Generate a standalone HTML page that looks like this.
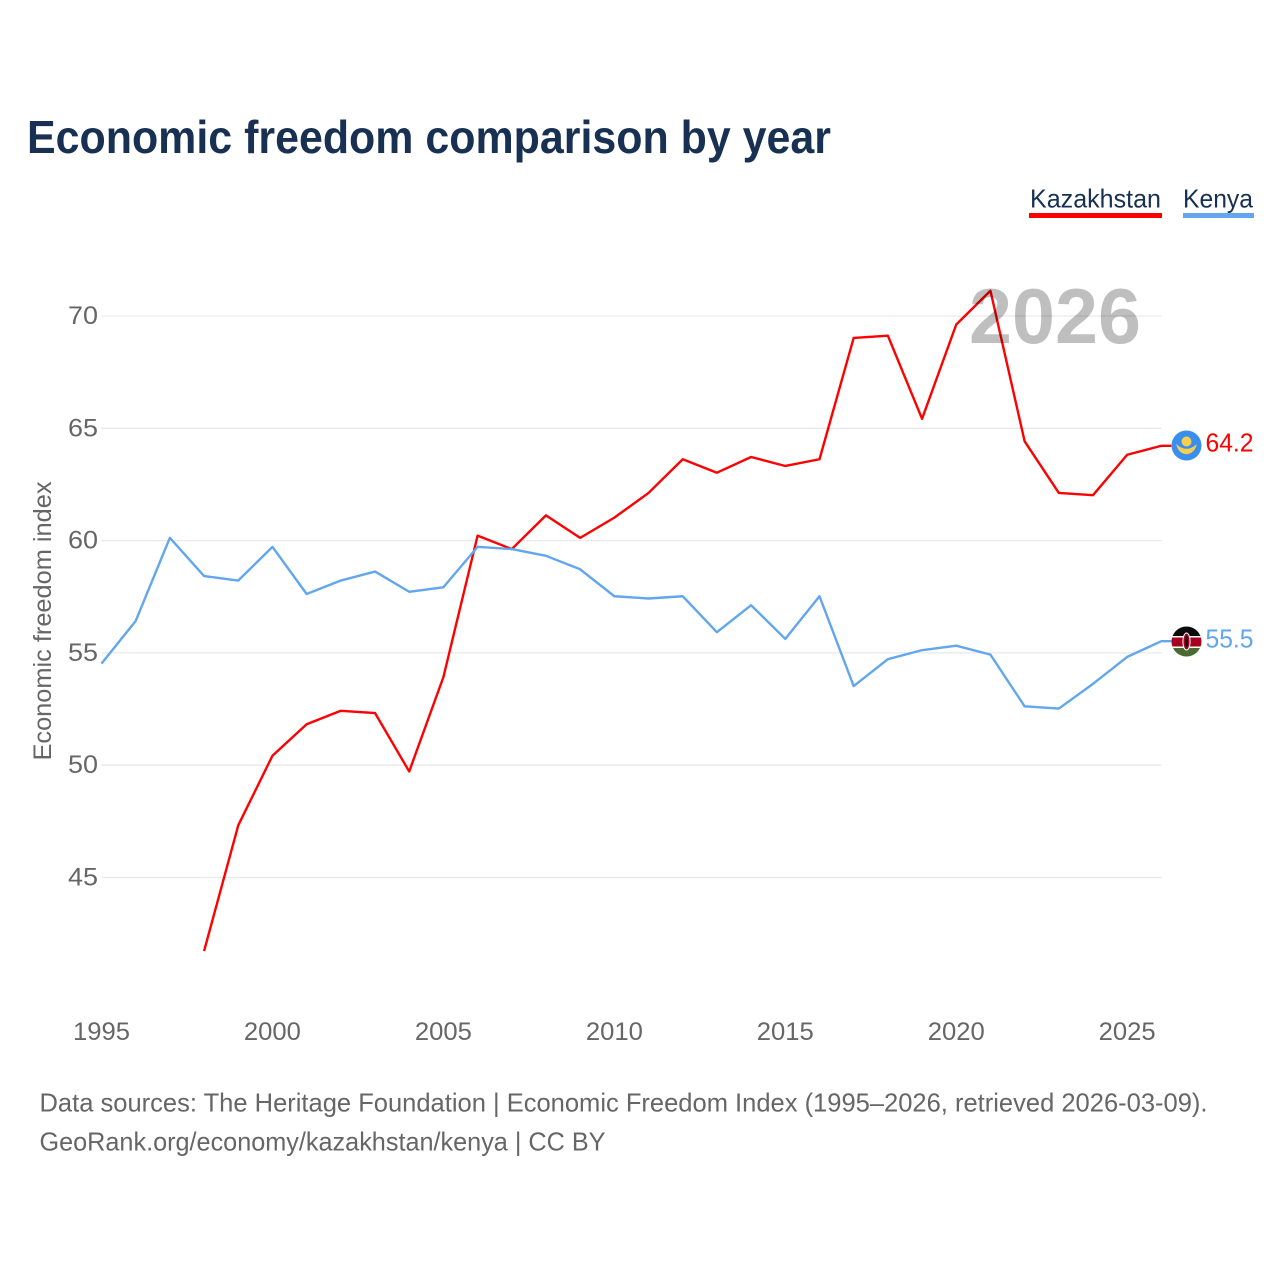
<!DOCTYPE html>
<html lang="en">
<head>
<meta charset="utf-8">
<title>Economic freedom comparison by year</title>
<style>
html,body{margin:0;padding:0;background:#fff;}
svg{display:block;font-family:"Liberation Sans",sans-serif;}
</style>
</head>
<body>
<svg id="chart" xmlns="http://www.w3.org/2000/svg" width="1280" height="1280" viewBox="0 0 1280 1280">
  <rect width="1280" height="1280" fill="#ffffff"/>
  <text x="27" y="153" font-size="46" font-weight="700" fill="#183153" textLength="804" lengthAdjust="spacingAndGlyphs">Economic freedom comparison by year</text>

  <g>
    <g>
      <text x="1030" y="207.5" font-size="26" fill="#183153" textLength="131" lengthAdjust="spacingAndGlyphs">Kazakhstan</text>
      <rect x="1029" y="213" width="133" height="5" fill="#ff0000"/>
    </g>
    <g>
      <text x="1183" y="207.5" font-size="26" fill="#183153" textLength="70" lengthAdjust="spacingAndGlyphs">Kenya</text>
      <rect x="1183" y="213" width="71" height="5" fill="#62a6ee"/>
    </g>
  </g>

  <g id="grid"></g>
  <g id="yticks"></g>
  <g id="xticks"></g>
  <text transform="translate(51,621) rotate(-90)" text-anchor="middle" font-size="25" fill="#666666" textLength="279" lengthAdjust="spacingAndGlyphs">Economic freedom index</text>

  <g id="series"></g>

  <text x="969" y="343" font-size="78" font-weight="700" fill="#000000" fill-opacity="0.25" textLength="172" lengthAdjust="spacingAndGlyphs">2026</text>

  <g>
    <circle cx="1186.5" cy="445.5" r="15" fill="#3a8fee"/>
    <circle cx="1186.5" cy="441.5" r="5" fill="#f6cf52"/>
    <path d="M1177.5 446 Q1186.5 453 1195.5 446 Q1193 453 1186.5 453.5 Q1180 453 1177.5 446Z" fill="#f6cf52" stroke="#f6cf52" stroke-width="1.4"/>
  </g>
  <g>
    <clipPath id="kenya-clip"><circle cx="1186.5" cy="641.5" r="15"/></clipPath>
    <g clip-path="url(#kenya-clip)">
      <rect x="1171" y="626" width="31" height="10.5" fill="#0b0b0b"/>
      <rect x="1171" y="636" width="31" height="1.6" fill="#ffffff"/>
      <rect x="1171" y="637.5" width="31" height="9" fill="#a5001f"/>
      <rect x="1171" y="646.5" width="31" height="1.6" fill="#ffffff"/>
      <rect x="1171" y="648" width="31" height="10" fill="#4a6b30"/>
      <ellipse cx="1186.5" cy="641.5" rx="3.6" ry="8.5" fill="#a5001f" stroke="#ffffff" stroke-width="1"/>
      <ellipse cx="1186.5" cy="641.5" rx="1.3" ry="6" fill="#0b0b0b"/>
    </g>
  </g>
  <text x="1205.5" y="451.5" font-size="26" fill="#ff0000" textLength="48" lengthAdjust="spacingAndGlyphs">64.2</text>
  <text x="1205.5" y="647.5" font-size="26" fill="#62a6ee" textLength="48" lengthAdjust="spacingAndGlyphs">55.5</text>

  <g font-size="26" fill="#666666">
    <text x="39.5" y="1111.5" textLength="1168" lengthAdjust="spacingAndGlyphs">Data sources: The Heritage Foundation | Economic Freedom Index (1995–2026, retrieved 2026-03-09).</text>
    <text x="39.5" y="1150.5" textLength="566" lengthAdjust="spacingAndGlyphs">GeoRank.org/economy/kazakhstan/kenya | CC BY</text>
  </g>
</svg>
<script>
const years = [1995,1996,1997,1998,1999,2000,2001,2002,2003,2004,2005,2006,2007,2008,2009,2010,2011,2012,2013,2014,2015,2016,2017,2018,2019,2020,2021,2022,2023,2024,2025,2026];
const kazakhstan = [null,null,null,41.7,47.3,50.4,51.8,52.4,52.3,49.7,53.9,60.2,59.6,61.1,60.1,61.0,62.1,63.6,63.0,63.7,63.3,63.6,69.0,69.1,65.4,69.6,71.1,64.4,62.1,62.0,63.8,64.2];
const kenya = [54.5,56.4,60.1,58.4,58.2,59.7,57.6,58.2,58.6,57.7,57.9,59.7,59.6,59.3,58.7,57.5,57.4,57.5,55.9,57.1,55.6,57.5,53.5,54.7,55.1,55.3,54.9,52.6,52.5,53.6,54.8,55.5];
const yTicks = [45,50,55,60,65,70];
const xTicks = [1995,2000,2005,2010,2015,2020,2025];

const NS = 'http://www.w3.org/2000/svg';
const xScale = function (yr) { return 101.5 + (yr - 1995) * 34.19; };
const yScale = function (v) { return 316 + (70 - v) * (877.5 - 316) / 25; };
const lineOffsetY = -0.5;

const grid = document.getElementById('grid');
const yG = document.getElementById('yticks');
const xG = document.getElementById('xticks');
const seriesG = document.getElementById('series');

yTicks.forEach(function (t) {
  const line = document.createElementNS(NS, 'line');
  
  
  line.setAttribute('x1', 101.5);
  line.setAttribute('x2', 1162);
  line.setAttribute('y1', yScale(t));
  line.setAttribute('y2', yScale(t));
  line.setAttribute('stroke', '#e9e9e9');
  line.setAttribute('stroke-width', 1.3);
  grid.appendChild(line);

  const label = document.createElementNS(NS, 'text');
  
  
  label.setAttribute('x', 98);
  label.setAttribute('y', yScale(t) + 8);
  label.setAttribute('text-anchor', 'end');
  label.setAttribute('font-size', 25);
  label.setAttribute('fill', '#666666');
  label.setAttribute('textLength', 30);
  label.setAttribute('lengthAdjust', 'spacingAndGlyphs');
  label.textContent = t;
  yG.appendChild(label);
});

xTicks.forEach(function (t) {
  const label = document.createElementNS(NS, 'text');
  
  
  label.setAttribute('x', xScale(t));
  label.setAttribute('y', 1040);
  label.setAttribute('text-anchor', 'middle');
  label.setAttribute('font-size', 25);
  label.setAttribute('fill', '#666666');
  label.setAttribute('textLength', 57);
  label.setAttribute('lengthAdjust', 'spacingAndGlyphs');
  label.textContent = t;
  xG.appendChild(label);
});

function pathFor(values) {
  let d = '';
  let lastX = null;
  let lastY = null;
  values.forEach(function (v, i) {
    if (v === null) return;
    lastX = xScale(years[i]);
    lastY = yScale(v) + lineOffsetY;
    d += (d === '' ? 'M' : 'L') + lastX.toFixed(2) + ' ' + lastY.toFixed(2) + ' ';
  });
  return { d: d, lastX: lastX, lastY: lastY };
}

const kazakhstanPath = pathFor(kazakhstan);
const kazakhstanLine = document.createElementNS(NS, 'path');


kazakhstanLine.setAttribute('d', kazakhstanPath.d + 'L' + (kazakhstanPath.lastX + 10) + ' ' + kazakhstanPath.lastY.toFixed(2));
kazakhstanLine.setAttribute('fill', 'none');
kazakhstanLine.setAttribute('stroke', '#ff0000');
kazakhstanLine.setAttribute('stroke-width', 2.4);
kazakhstanLine.setAttribute('stroke-linejoin', 'round');
seriesG.appendChild(kazakhstanLine);

const kenyaPath = pathFor(kenya);
const kenyaLine = document.createElementNS(NS, 'path');


kenyaLine.setAttribute('d', kenyaPath.d + 'L' + (kenyaPath.lastX + 10) + ' ' + kenyaPath.lastY.toFixed(2));
kenyaLine.setAttribute('fill', 'none');
kenyaLine.setAttribute('stroke', '#62a6ee');
kenyaLine.setAttribute('stroke-width', 2.4);
kenyaLine.setAttribute('stroke-linejoin', 'round');
seriesG.appendChild(kenyaLine);
</script>
</body>
</html>
